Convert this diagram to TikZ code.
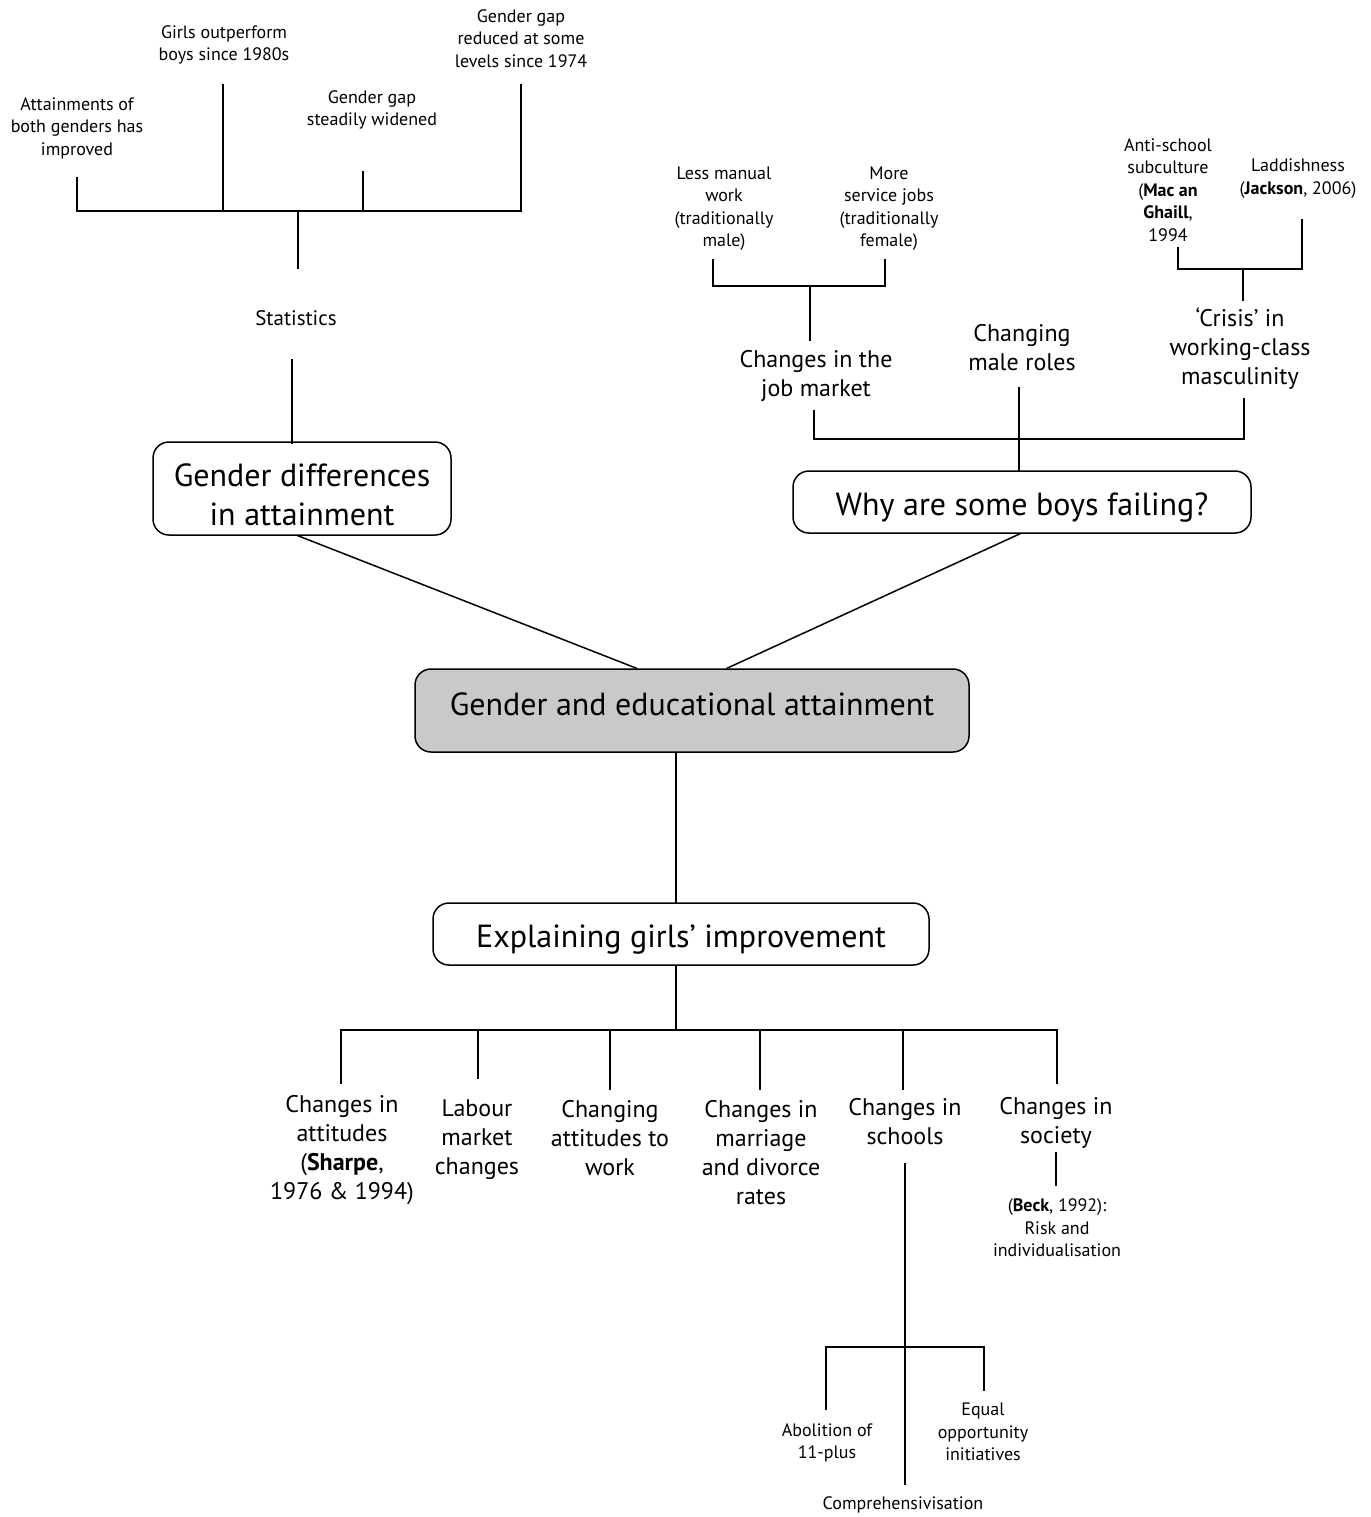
\documentclass[tikz,border=0pt]{standalone}
\usepackage{fontspec}
\setmainfont{PT Sans}
\usetikzlibrary{calc}
\definecolor{boxgray}{RGB}{200,201,203}
\tikzset{
  small/.style={font=\fontsize{9}{11.25}\selectfont, align=center, inner sep=0pt},
  med/.style={font=\fontsize{12}{14.5}\selectfont, align=center, inner sep=0pt},
  statf/.style={font=\fontsize{10.5}{13}\selectfont, align=center, inner sep=0pt},
  bigbox/.style={draw, line width=0.75pt, rounded corners=8pt, align=center, inner sep=0pt,
    font=\fontsize{16}{19.5}\selectfont},
  ln/.style={line width=0.75pt, line cap=rect},
}
\begin{document}
\begin{tikzpicture}[x=0.5pt,y=-0.5pt]
\useasboundingbox (0,0) rectangle (1371,1517);

% ---------- top-left: statistics ----------
\node[small] (att) at (77,128) {Attainments of\\both genders has\\improved};
\node[small] (girls) at (224,45) {Girls outperform\\boys since 1980s};
\node[small] (widened) at (372,110) {Gender gap\\steadily widened};
\node[small] (reduced) at (521,38.5) {Gender gap\\reduced at some\\levels since 1974};
\node[statf] (stat) at (296,318) {Statistics};

\coordinate (tbL) at (77,211);
\coordinate (tbR) at (521,211);
\coordinate (tbS) at (298,211);
\draw[ln] (tbL) -- (tbR);
\draw[ln] (att.center) ++(0,50) -- ++(0,33);
\draw[ln] (girls.center) ++(-1,40) -- ++(0,126);
\draw[ln] (widened.center) ++(-9,62) -- ++(0,39);
\draw[ln] (reduced.center) ++(0,46.5) -- ++(0,126);
\draw[ln] (tbS) -- ++(0,57);

% ---------- boxes ----------
\node[bigbox, minimum width=149pt, minimum height=46.5pt, text height=37pt, text depth=0pt] (gda) at (302,488.5) {Gender differences\\in attainment};
\node[bigbox, minimum width=229pt, minimum height=31pt, text height=14.5pt, text depth=1pt] (why) at (1022,502) {Why are some boys failing?};
\node[bigbox, fill=boxgray, minimum width=277pt, minimum height=41.5pt, text height=11.5pt, text depth=7pt] (gea) at (692,710.5) {Gender and educational attainment};
\node[bigbox, minimum width=248pt, minimum height=31pt, text height=13.5pt, text depth=0.5pt] (egi) at (681,934) {Explaining girls’ improvement};

\draw[ln] (stat.center) ++(-4,42) -- ++(0,83);
\draw[ln] ([xshift=-2pt]gda.south) -- ($(gea.north west)!0.40!(gea.north east)$);
\draw[ln] ([xshift=-1pt]why.south) -- ($(gea.north west)!0.563!(gea.north east)$);

% ---------- top-right: boys failing ----------
\node[small] (lmw) at (724,208.5) {Less manual\\work\\(traditionally\\male)};
\node[small] (msj) at (889,208.5) {More\\service jobs\\(traditionally\\female)};
\node[med] (cjm) at (816,375.5) {Changes in the\\job market};
\node[med] (cmr) at (1022,348) {Changing\\male roles};
\node[med] (crisis) at (1240,348.5) {‘Crisis’ in\\working-class\\masculinity};
\node[small] (anti) at (1168,190) {Anti-school\\subculture\\(\textbf{Mac an}\\\textbf{Ghaill},\\1994};
\node[small] (lad) at (1298,178.5) {Laddishness\\(\textbf{Jackson}, 2006)};

\coordinate (jmL) at (713,286);
\coordinate (jmR) at (885,286);
\draw[ln] (jmL) -- (jmR);
\draw[ln] (lmw.center) ++(-11,51.5) -- ++(0,26);
\draw[ln] (msj.center) ++(-4,51.5) -- ++(0,26);
\draw[ln] (810,286) coordinate (jmS) -- ++(0,54);

\coordinate (crL) at (1178,269);
\coordinate (crR) at (1302,269);
\draw[ln] (crL) -- (crR);
\draw[ln] (anti.center) ++(10,58) -- ++(0,21);
\draw[ln] (lad.center) ++(4,41.5) -- ++(0,49);
\draw[ln] (1243,269) coordinate (crS) -- ++(0,31);

\coordinate (bbL) at (814,439);
\coordinate (bbR) at (1244,439);
\draw[ln] (bbL) -- (bbR);
\draw[ln] (cjm.center) ++(-2,35.5) -- ++(0,28);
\draw[ln] (crisis.center) ++(4,50.5) -- ++(0,40);
\draw[ln] (cmr.center) ++(-3,40) -- (why.north -| 1019,0);

% ---------- bottom: explaining girls' improvement ----------
\coordinate (jx) at (676,1030);
\draw[ln] (gea.south -| jx) -- (egi.north -| jx);
\draw[ln] (egi.south -| jx) -- (jx);

\node[med] (ca) at (342,1150) {Changes in\\attitudes\\(\textbf{Sharpe},\\1976 \& 1994)};
\node[med] (lmc) at (477,1139.5) {Labour\\market\\changes};
\node[med] (caw) at (610,1138) {Changing\\attitudes to\\work};
\node[med] (cmd) at (761,1152.5) {Changes in\\marriage\\and divorce\\rates};
\node[med] (cis) at (905,1122) {Changes in\\schools};
\node[med] (csoc) at (1056,1122.5) {Changes in\\society};
\node[small] (beck) at (1057,1228) {(\textbf{Beck}, 1992):\\Risk and\\individualisation};

\draw[ln] (jx -| 341,0) -- (jx -| 1057,0);
\draw[ln] (jx -| 341,0) -- ++(0,53);
\draw[ln] (jx -| 478,0) -- ++(0,48);
\draw[ln] (jx -| 610,0) -- ++(0,59);
\draw[ln] (jx -| 760,0) -- ++(0,59);
\draw[ln] (jx -| 903,0) -- ++(0,59);
\draw[ln] (jx -| 1057,0) -- ++(0,53);

\draw[ln] (csoc.center) ++(0,30.5) -- ++(0,32);

% schools sub-tree
\node[small] (abol) at (827,1443) {Abolition of\\11-plus};
\node[small] (equal) at (983,1432) {Equal\\opportunity\\initiatives};
\node[small] (comp) at (903,1505) {Comprehensivisation};

\coordinate (sb) at (905,1347);
\draw[ln] (cis.center) ++(0,42) -- ++(0,320);
\draw[ln] (sb -| 826,0) -- (sb -| 984,0);
\draw[ln] (sb -| 826,0) -- ++(0,62);
\draw[ln] (sb -| 984,0) -- ++(0,43);
\end{tikzpicture}
\end{document}
